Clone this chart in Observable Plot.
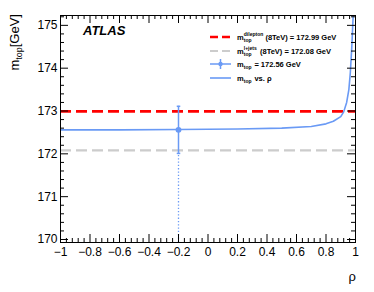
<!DOCTYPE html>
<html><head><meta charset="utf-8">
<script src="https://cdn.jsdelivr.net/npm/d3@7"></script>
<script src="https://cdn.jsdelivr.net/npm/@observablehq/plot@0.6"></script>
<style>body{margin:0;background:#fff} svg{display:block} #chart{position:relative;width:374px;height:292px}</style>
</head><body><div id="chart"></div>
<script>
// m_top as a function of the correlation rho
const rho  = [-1, -0.6, -0.2, 0.2, 0.5, 0.7, 0.8, 0.85, 0.9, 0.92, 0.94, 0.955, 0.965, 0.975, 0.985];
const mtop = [172.56, 172.56, 172.57, 172.58, 172.6, 172.64, 172.7, 172.76, 172.87, 172.98, 173.2, 173.5, 173.9, 174.5, 175.3];
const xTicks = [-1, -0.8, -0.6, -0.4, -0.2, 0, 0.2, 0.4, 0.6, 0.8, 1];
const yTicks = [170, 171, 172, 173, 174, 175];
const mDilepton = 172.99;
const mLjets = 172.08;
const combRho = -0.2;
const combM = 172.56;
const combLow = 172.01;
const combHigh = 173.11;
const legendLabels = [
  {sup: "dilepton", rest: "(8TeV) = 172.99 GeV"},
  {sup: "l+jets", rest: "(8TeV) = 172.08 GeV"},
  {sup: null, rest: " = 172.56 GeV"},
  {sup: null, rest: " vs. ρ"}
];

const blue = "#6a9af5";
const W = 374, H = 292, mL = 60, mR = 19, mT = 15, mB = 50;
const iW = W - mL - mR, iH = H - mT - mB;
const xMinor = d3.range(-1, 1.0001, 0.04).filter(v => xTicks.every(t => Math.abs(t - v) > 1e-6));
const yMinor = d3.range(169.6, 175.3, 0.2).filter(v => v > 169.93 && v < 175.23 && yTicks.every(t => Math.abs(t - v) > 1e-6));
const curve = rho.map((r, i) => ({rho: r, m: mtop[i]}));
const capHalf = 0.012;
const minus = d => String(d).replace("-", "\u2212");

const plot = Plot.plot({
  width: W, height: H,
  marginLeft: mL, marginRight: mR, marginTop: mT, marginBottom: mB,
  style: {fontFamily: "'Liberation Sans', Arial, sans-serif", background: "#fff"},
  x: {domain: [-1, 1]},
  y: {domain: [169.93, 175.23]},
  marks: [
    Plot.ruleY([mLjets], {stroke: "#cccccc", strokeWidth: 2.2, strokeDasharray: "11,5"}),
    Plot.ruleY([mDilepton], {stroke: "#ff0000", strokeWidth: 2.7, strokeDasharray: "11,5"}),
    Plot.line(curve, {x: "rho", y: "m", stroke: blue, strokeWidth: 1.6, clip: true}),
    Plot.ruleX([combRho], {y1: 169.93, y2: combLow, stroke: blue, strokeWidth: 1.3, strokeDasharray: "1.3,2"}),
    Plot.ruleX([combRho], {y1: combLow, y2: combHigh, stroke: blue, strokeWidth: 1.5}),
    Plot.link([combLow, combHigh], {x1: () => combRho - capHalf, x2: () => combRho + capHalf, y1: d => d, y2: d => d, stroke: blue, strokeWidth: 1.5}),
    Plot.dot([combM], {x: () => combRho, y: d => d, r: 2.2, fill: blue, stroke: blue}),
    // inner ticks, ROOT style, on all four sides
    Plot.ruleX(xTicks, {insetTop: iH - 8, stroke: "#000"}),
    Plot.ruleX(xMinor, {insetTop: iH - 4, stroke: "#000"}),
    Plot.ruleX(xTicks, {insetBottom: iH - 8, stroke: "#000"}),
    Plot.ruleX(xMinor, {insetBottom: iH - 4, stroke: "#000"}),
    Plot.ruleY(yTicks, {insetRight: iW - 8, stroke: "#000"}),
    Plot.ruleY(yMinor, {insetRight: iW - 4, stroke: "#000"}),
    Plot.ruleY(yTicks, {insetLeft: iW - 8, stroke: "#000"}),
    Plot.ruleY(yMinor, {insetLeft: iW - 4, stroke: "#000"}),
    Plot.axisX({ticks: xTicks, tickSize: 0, tickPadding: 5, fontSize: 12, label: null, tickFormat: minus}),
    Plot.axisY({ticks: yTicks, tickSize: 0, tickPadding: 3, fontSize: 12, label: null, tickFormat: d => String(d)}),
    Plot.frame({stroke: "#000"})
  ]
});
document.getElementById("chart").appendChild(plot);

const svg = d3.select(plot);
const font = "'Liberation Sans', Arial, sans-serif";
// ATLAS label
svg.append("text").attr("x", 83).attr("y", 35).attr("text-anchor", "start").attr("font-family", font)
  .attr("font-weight", "bold").attr("font-style", "italic").attr("font-size", 13).text("ATLAS");
// y title
const yt = svg.append("text").attr("transform", "translate(19,14) rotate(-90)")
  .attr("text-anchor", "end").attr("font-family", font).attr("font-size", 13);
yt.append("tspan").text("m");
yt.append("tspan").attr("font-size", 9).attr("dy", 3).text("top");
yt.append("tspan").attr("dy", -3).text("[GeV]");
// x title
svg.append("text").attr("x", 356).attr("y", 281).attr("text-anchor", "end")
  .attr("font-family", font).attr("font-size", 13).text("ρ");

// legend
const rowsY = [37, 51, 64, 78];
const lx1 = 210, lx2 = 231, tx = 237;
const g = svg.append("g").attr("text-anchor", "start");
g.append("line").attr("x1", lx1).attr("x2", lx2).attr("y1", rowsY[0]).attr("y2", rowsY[0])
  .attr("stroke", "#ff0000").attr("stroke-width", 2.7).attr("stroke-dasharray", "8,4");
g.append("line").attr("x1", lx1).attr("x2", lx2).attr("y1", rowsY[1]).attr("y2", rowsY[1])
  .attr("stroke", "#cccccc").attr("stroke-width", 2.2).attr("stroke-dasharray", "8,4");
g.append("line").attr("x1", lx1).attr("x2", lx2).attr("y1", rowsY[2]).attr("y2", rowsY[2])
  .attr("stroke", blue).attr("stroke-width", 1.5);
g.append("line").attr("x1", (lx1 + lx2) / 2).attr("x2", (lx1 + lx2) / 2).attr("y1", rowsY[2] - 5).attr("y2", rowsY[2] + 5)
  .attr("stroke", blue).attr("stroke-width", 1.5);
g.append("circle").attr("cx", (lx1 + lx2) / 2).attr("cy", rowsY[2]).attr("r", 2.2).attr("fill", blue);
g.append("line").attr("x1", lx1).attr("x2", lx2).attr("y1", rowsY[3]).attr("y2", rowsY[3])
  .attr("stroke", blue).attr("stroke-width", 1.6);
legendLabels.forEach((lab, i) => {
  const base = rowsY[i] + 2.6;
  const txt = (x, y, size, s) => g.append("text").attr("x", x).attr("y", y).attr("text-anchor", "start")
    .attr("font-family", font).attr("font-size", size).attr("font-weight", "bold").text(s);
  txt(tx, base, 7.5, "m");
  const start = tx + 6.8;
  if (lab.sup) {
    txt(start, base - 4, 5, lab.sup);
    txt(start, base + 2.3, 5, "top");
    txt(start + Math.max(lab.sup.length * 2.7, 8.5), base, 7.5, lab.rest);
  } else {
    txt(start, base + 2.3, 5, "top");
    txt(start + 8.5, base, 7.5, lab.rest);
  }
});
</script>
</body></html>
